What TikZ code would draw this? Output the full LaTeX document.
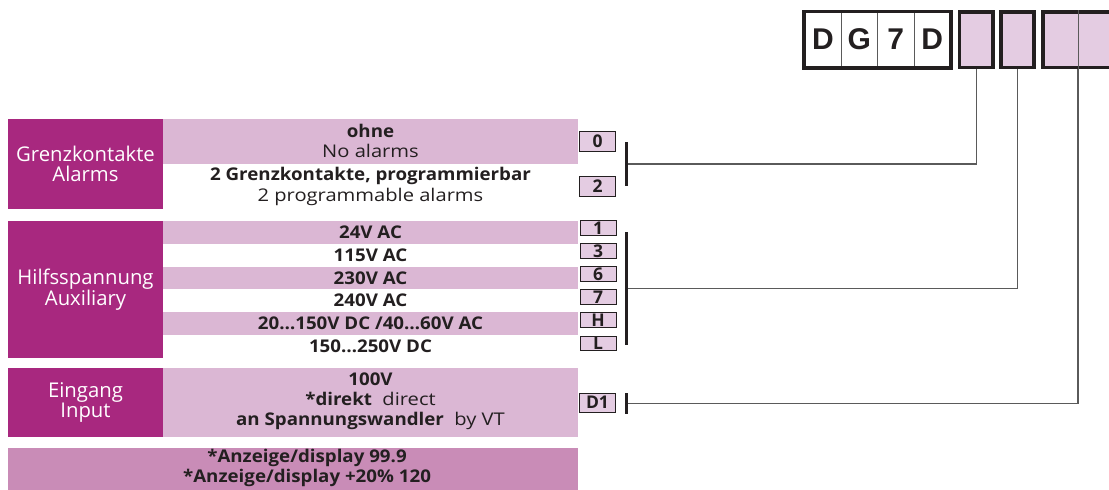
\documentclass[tikz,border=0pt]{standalone}
\usepackage{fontspec}
\setmainfont{Open Sans}[FakeStretch=1.15, BoldFeatures={FakeStretch=1.07}]
\newfontfamily\labelfont{Open Sans}
\newfontfamily\codefont{Liberation Sans}
\definecolor{mag}{HTML}{A8287F}
\definecolor{lpink}{HTML}{DBB7D4}
\definecolor{bpink}{HTML}{E4CCE2}
\definecolor{dpink}{HTML}{C98CB7}
\definecolor{txt}{HTML}{231F20}
\definecolor{ln}{HTML}{5A5A5A}
\begin{document}
\begin{tikzpicture}[x=1pt,y=-1pt,
  band/.style={inner sep=0pt, outer sep=0pt, draw=none},
  maglabel/.style={band, fill=mag, text=white, align=center, font=\labelfont\fontsize{20.3}{20}\selectfont},
  dtext/.style={inner sep=0pt, text=txt, align=center, font=\fontsize{17.5}{20.5}\selectfont},
  rowtext/.style={inner sep=0pt, text=txt, font=\bfseries\fontsize{17.5}{20}\selectfont},
  codebox/.style={draw=txt, line width=1pt, fill=bpink, inner sep=0pt, minimum width=36pt, text=txt, font=\labelfont\bfseries\fontsize{17.5}{17}\selectfont, text height=12.5pt, text depth=0pt},
  barnode/.style={fill=txt, inner sep=0pt, outer sep=0pt, minimum width=3.2pt},
  conn/.style={draw=ln, line width=1.3pt},
  cell/.style={draw=ln, line width=0.9pt, fill=white, inner sep=0pt, minimum width=36.45pt, minimum height=55.3pt, text=txt, font=\codefont\bfseries\fontsize{30}{30}\selectfont},
  pbox/.style={draw=txt, line width=3.6pt, fill=bpink, inner sep=0pt, minimum height=55.3pt}
]
\clip (0,0) rectangle (1109,490);
\fill[white] (0,0) rectangle (1109,490);

% ---- code boxes at top ----
\node[cell] (c1) at (822.93,39.65) {D};
\node[cell] (c2) at (859.38,39.65) {G};
\node[cell] (c3) at (895.83,39.65) {7};
\node[cell] (c4) at (932.28,39.65) {D};
\draw[txt, line width=3.6pt] (c1.north west) rectangle (c4.south east);
\node[pbox, minimum width=33.5pt] (b2) at (976.25,39.65) {};
\node[pbox, minimum width=32.7pt] (b3) at (1017.35,39.65) {};
\node[pbox, minimum width=70.6pt] (b4) at (1078,39.65) {};
\draw[ln, line width=0.9pt] (b4.north) -- (b4.south);

% ---- Grenzkontakte / Alarms ----
\node[maglabel, minimum width=154.4pt, minimum height=90pt] (gk) at (85.5,164.3) {Grenzkontakte\\Alarms};
\node[band, fill=lpink, minimum width=415.6pt, minimum height=45pt] (ohneband) at (370.5,141.8) {};
\node[dtext] (ohne) at (370.5,141) {\textbf{ohne}\\No alarms};
\node[dtext] (prog) at (370.5,186.5) {\textbf{2 Grenzkontakte, programmierbar}\\2 programmable alarms};
\node[codebox, minimum height=20pt] (k0) at (597.5,141.7) {0};
\node[codebox, minimum height=20pt] (k2) at (597.5,186.7) {2};
\node[barnode, minimum height=44.3pt] (barA) at (626.7,163.85) {};

% ---- Hilfsspannung / Auxiliary ----
\node[maglabel, minimum width=154.4pt, minimum height=136.7pt] (aux) at (85.5,289.35) {Hilfsspannung\\Auxiliary};
\foreach \i/\t/\f/\k in {0/{24V AC}/lpink/1, 1/{115V AC}/white/3, 2/{230V AC}/lpink/6, 3/{240V AC}/white/7, 4/{20…150V DC {/}40…60V AC}/lpink/H, 5/{150…250V DC}/white/L}{
  \node[band, fill=\f, minimum width=415.6pt, minimum height=22.78pt] (row\i) at (370.5,{232.39+22.78*\i}) {};
  \node[rowtext] (rowtxt\i) at (370.5,{232.39+22.78*\i}) {\t};
  \node[codebox, minimum height=14.5pt] (kb\i) at (598,{227.8+23.1*\i}) {\k};
}
\node[barnode, minimum height=113.3pt] (barB) at (626.7,288.35) {};

% ---- Eingang / Input ----
\node[maglabel, minimum width=154.4pt, minimum height=68.4pt] (inp) at (85.5,402.5) {Eingang\\Input};
\node[band, fill=lpink, minimum width=415.6pt, minimum height=68.4pt] (inband) at (370.5,402.5) {};
\node[dtext, font=\fontsize{17.5}{20}\selectfont] (intext) at (370.5,401.7) {\textbf{100V}\\\textbf{*direkt}\ \ direct\\\textbf{an Spannungswandler}\ \ by VT};
\node[codebox, minimum height=19pt] (kd1) at (597.5,402.5) {D1};
\node[barnode, minimum height=21pt] (barC) at (626.7,403.5) {};

% ---- Anzeige ----
\node[band, fill=dpink, minimum width=570pt, minimum height=50pt] (anz) at (293.3,473.3) {};
\node[dtext, font=\bfseries\fontsize{17.5}{20}\selectfont] (anztext) at (307,468) {*Anzeige/display 99.9\\*Anzeige/display +20\% 120};

% ---- connectors ----
\draw[conn] (b2.south) |- (barA.east);
\draw[conn] (b3.south) |- (barB.east);
\draw[conn] (b4.south) |- (barC.east);
\end{tikzpicture}
\end{document}
